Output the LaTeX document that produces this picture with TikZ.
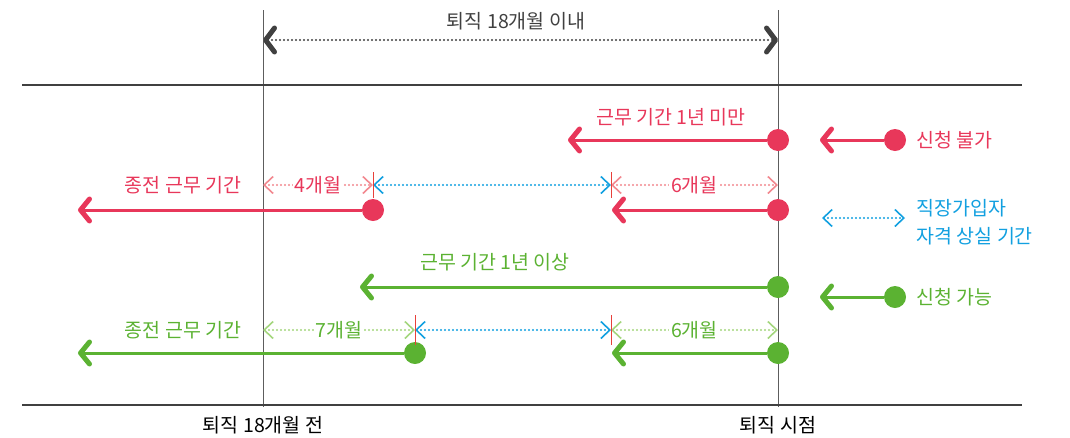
\documentclass[tikz,border=0pt]{standalone}
\usepackage{fontspec}
\setmainfont{Noto Sans CJK KR}
\usetikzlibrary{positioning,arrows.meta}
\definecolor{cred}{HTML}{E8375A}
\definecolor{cpink}{HTML}{F2888F}
\definecolor{cblue}{HTML}{12A0E0}
\definecolor{cgreen}{HTML}{5BB232}
\definecolor{clgreen}{HTML}{A4D67E}
\definecolor{cdark}{HTML}{404040}
\definecolor{ctick}{HTML}{E8403A}

\begin{document}
\begin{tikzpicture}[x=1pt,y=-1pt,
    every node/.style={font=\fontsize{19.5}{28}\selectfont},
    dot/.style={circle,fill=#1,minimum size=22pt,inner sep=0pt},
    run/.style={draw=#1,line width=3pt,-{Straight Barb[length=9pt,width=22pt,line width=5pt,round]}},
    span/.style={draw=#1,line width=2.3pt,line cap=round,dash pattern=on 0pt off 4pt,
        {Straight Barb[length=9pt,width=17pt,line width=1.6pt]}-{Straight Barb[length=9pt,width=17pt,line width=1.6pt]}},
    mlabel/.style={fill=white,inner xsep=2pt,inner ysep=1pt,text=#1},
    tick/.style={draw=ctick,line width=1pt},
    guide/.style={draw=cdark!85,line width=1pt},
    rule/.style={draw=cdark,line width=2.5pt}]
    \useasboundingbox (0,0) rectangle (1070,437);

    \coordinate (g1t) at (263,10);  \coordinate (g1b) at (263,407);
    \coordinate (g2t) at (778,10);  \coordinate (g2b) at (778,407);
    \draw[guide] (g1t) -- (g1b);
    \draw[guide] (g2t) -- (g2b);
    \coordinate (h1l) at (22,85);  \coordinate (h1r) at (1022,85);
    \coordinate (h2l) at (22,405); \coordinate (h2r) at (1022,405);
    \draw[rule] (h1l) -- (h1r);
    \draw[rule] (h2l) -- (h2r);

    \coordinate (top1) at (263,40); \coordinate (top2) at (778,40);
    \draw[span=cdark,{Straight Barb[length=9pt,width=24pt,line width=5pt,round]}-{Straight Barb[length=9pt,width=24pt,line width=5pt,round]}] (top1) -- (top2);
    \node[text=cdark] (toptxt) at (516,21) {퇴직 18개월 이내};

    \node (begin) at (263,425) {퇴직 18개월 전};
    \node (quit) at (778,425) {퇴직 시점};

    % 신청 불가
    \node[dot=cred] (r1) at (778,140) {};
    \coordinate (r1e) at (568,140);
    \draw[run=cred] (r1) -- (r1e);
    \node[text=cred] (r1txt) at (671,117) {근무 기간 1년 미만};

    \node[dot=cred] (r2a) at (373,210) {};
    \node[dot=cred] (r2b) at (778,210) {};
    \coordinate (r2ae) at (78,210);
    \coordinate (r2be) at (612,210);
    \draw[run=cred] (r2a) -- (r2ae);
    \draw[run=cred] (r2b) -- (r2be);
    \node[text=cred] (r2txt) at (183,185) {종전 근무 기간};
    \coordinate (s1) at (263,185); \coordinate (s2) at (373,185);
    \coordinate (s3) at (611,185); \coordinate (s4) at (778,185);
    \draw[span=cpink] (s1) -- node[mlabel=cred] (m4) {4개월} (s2);
    \draw[span=cblue] (s2) -- (s3);
    \draw[span=cpink] (s3) -- node[mlabel=cred] (m6a) {6개월} (s4);
    \draw[tick] ([yshift=13pt]s2) -- ([yshift=-13pt]s2);
    \draw[tick] ([yshift=13pt]s3) -- ([yshift=-13pt]s3);

    % 신청 가능
    \node[dot=cgreen] (r3) at (778,287) {};
    \coordinate (r3e) at (360,287);
    \draw[run=cgreen] (r3) -- (r3e);
    \node[text=cgreen] (r3txt) at (495,262) {근무 기간 1년 이상};

    \node[dot=cgreen] (r4a) at (415,353) {};
    \node[dot=cgreen] (r4b) at (778,353) {};
    \coordinate (r4ae) at (78,353);
    \coordinate (r4be) at (612,353);
    \draw[run=cgreen] (r4a) -- (r4ae);
    \draw[run=cgreen] (r4b) -- (r4be);
    \node[text=cgreen] (r4txt) at (183,330) {종전 근무 기간};
    \coordinate (u1) at (263,330); \coordinate (u2) at (415,330);
    \coordinate (u3) at (611,330); \coordinate (u4) at (778,330);
    \draw[span=clgreen] (u1) -- node[mlabel=cgreen] (m7) {7개월} (u2);
    \draw[span=cblue] (u2) -- (u3);
    \draw[span=clgreen] (u3) -- node[mlabel=cgreen] (m6b) {6개월} (u4);
    \draw[tick] ([yshift=15pt]u2) -- ([yshift=-15pt]u2);
    \draw[tick] ([yshift=15pt]u3) -- ([yshift=-15pt]u3);

    % legend
    \node[dot=cred] (lg1) at (895,140) {};
    \coordinate (lg1e) at (820,140);
    \draw[run=cred] (lg1) -- (lg1e);
    \node[right=7pt of lg1,text=cred] (lg1txt) {신청 불가};

    \coordinate (lg2a) at (822,218); \coordinate (lg2b) at (905,218);
    \draw[span=cblue] (lg2a) -- (lg2b);
    \node[anchor=west,align=left,text=cblue] (lg2txt) at (913,222) {직장가입자\\자격 상실 기간};

    \node[dot=cgreen] (lg3) at (895,297) {};
    \coordinate (lg3e) at (820,297);
    \draw[run=cgreen] (lg3) -- (lg3e);
    \node[right=7pt of lg3,text=cgreen] (lg3txt) {신청 가능};
\end{tikzpicture}
\end{document}
